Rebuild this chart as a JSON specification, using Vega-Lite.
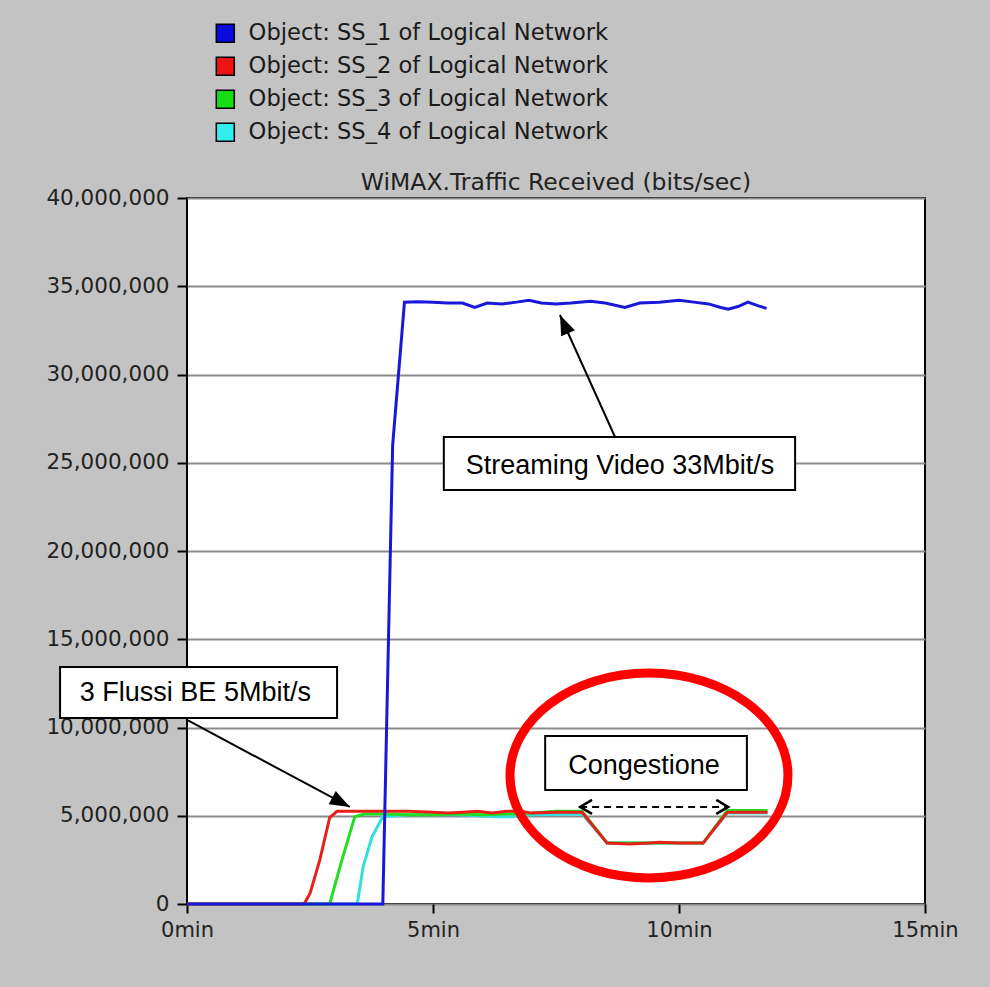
{
  "$schema": "https://vega.github.io/schema/vega-lite/v6.json",
  "width": 738,
  "height": 706,
  "autosize": "none",
  "padding": {"left": 187, "top": 198, "right": 65, "bottom": 83},
  "background": "#c3c3c3",
  "config": {
    "view": {"fill": "white", "stroke": "black", "strokeWidth": 2},
    "axis": {"labelFont": "DejaVu Sans", "labelColor": "#222222", "tickColor": "black", "tickWidth": 2, "domain": false}
  },
  "title": {"text": "WiMAX.Traffic Received (bits/sec)", "font": "DejaVu Sans", "fontSize": 23.5, "fontWeight": "normal", "color": "#222222", "offset": 6, "dy": 178, "anchor": "middle", "frame": "group"},
  "datasets": {
    "series": [
      {"s": "SS_1", "t": 0, "v": 0}, {"s": "SS_1", "t": 1, "v": 0}, {"s": "SS_1", "t": 2, "v": 0}, {"s": "SS_1", "t": 3, "v": 0},
      {"s": "SS_1", "t": 3.98, "v": 0}, {"s": "SS_1", "t": 4.18, "v": 26000000}, {"s": "SS_1", "t": 4.42, "v": 34100000},
      {"s": "SS_1", "t": 4.7, "v": 34120000}, {"s": "SS_1", "t": 5.0, "v": 34100000}, {"s": "SS_1", "t": 5.3, "v": 34050000},
      {"s": "SS_1", "t": 5.6, "v": 34050000}, {"s": "SS_1", "t": 5.85, "v": 33800000}, {"s": "SS_1", "t": 6.1, "v": 34050000},
      {"s": "SS_1", "t": 6.4, "v": 34000000}, {"s": "SS_1", "t": 6.7, "v": 34100000}, {"s": "SS_1", "t": 6.95, "v": 34200000},
      {"s": "SS_1", "t": 7.2, "v": 34050000}, {"s": "SS_1", "t": 7.5, "v": 34000000}, {"s": "SS_1", "t": 7.8, "v": 34050000},
      {"s": "SS_1", "t": 8.2, "v": 34150000}, {"s": "SS_1", "t": 8.5, "v": 34050000}, {"s": "SS_1", "t": 8.9, "v": 33800000},
      {"s": "SS_1", "t": 9.2, "v": 34050000}, {"s": "SS_1", "t": 9.6, "v": 34100000}, {"s": "SS_1", "t": 10.0, "v": 34200000},
      {"s": "SS_1", "t": 10.3, "v": 34100000}, {"s": "SS_1", "t": 10.6, "v": 34000000}, {"s": "SS_1", "t": 10.85, "v": 33800000},
      {"s": "SS_1", "t": 11.0, "v": 33700000}, {"s": "SS_1", "t": 11.2, "v": 33850000}, {"s": "SS_1", "t": 11.4, "v": 34100000},
      {"s": "SS_1", "t": 11.6, "v": 33900000}, {"s": "SS_1", "t": 11.78, "v": 33750000},

      {"s": "SS_2", "t": 0, "v": 0}, {"s": "SS_2", "t": 2.38, "v": 0}, {"s": "SS_2", "t": 2.5, "v": 600000},
      {"s": "SS_2", "t": 2.7, "v": 2500000}, {"s": "SS_2", "t": 2.9, "v": 4900000}, {"s": "SS_2", "t": 3.05, "v": 5250000},
      {"s": "SS_2", "t": 3.5, "v": 5250000}, {"s": "SS_2", "t": 4.0, "v": 5250000}, {"s": "SS_2", "t": 4.5, "v": 5250000},
      {"s": "SS_2", "t": 5.0, "v": 5200000}, {"s": "SS_2", "t": 5.3, "v": 5150000}, {"s": "SS_2", "t": 5.6, "v": 5200000},
      {"s": "SS_2", "t": 5.9, "v": 5250000}, {"s": "SS_2", "t": 6.2, "v": 5150000}, {"s": "SS_2", "t": 6.5, "v": 5250000},
      {"s": "SS_2", "t": 6.8, "v": 5250000}, {"s": "SS_2", "t": 7.0, "v": 5150000}, {"s": "SS_2", "t": 7.5, "v": 5200000},
      {"s": "SS_2", "t": 8.03, "v": 5200000}, {"s": "SS_2", "t": 8.54, "v": 3450000}, {"s": "SS_2", "t": 9.0, "v": 3400000},
      {"s": "SS_2", "t": 9.4, "v": 3450000}, {"s": "SS_2", "t": 9.6, "v": 3500000}, {"s": "SS_2", "t": 10.0, "v": 3450000},
      {"s": "SS_2", "t": 10.49, "v": 3450000}, {"s": "SS_2", "t": 10.98, "v": 5200000}, {"s": "SS_2", "t": 11.4, "v": 5200000},
      {"s": "SS_2", "t": 11.8, "v": 5200000},

      {"s": "SS_3", "t": 0, "v": 0}, {"s": "SS_3", "t": 2.9, "v": 0}, {"s": "SS_3", "t": 3.15, "v": 2500000},
      {"s": "SS_3", "t": 3.41, "v": 4950000}, {"s": "SS_3", "t": 3.6, "v": 5100000}, {"s": "SS_3", "t": 4.0, "v": 5100000},
      {"s": "SS_3", "t": 4.5, "v": 5050000}, {"s": "SS_3", "t": 5.0, "v": 5050000}, {"s": "SS_3", "t": 5.5, "v": 5100000},
      {"s": "SS_3", "t": 6.0, "v": 5050000}, {"s": "SS_3", "t": 6.5, "v": 5100000}, {"s": "SS_3", "t": 7.0, "v": 5150000},
      {"s": "SS_3", "t": 7.5, "v": 5250000}, {"s": "SS_3", "t": 8.03, "v": 5250000}, {"s": "SS_3", "t": 8.54, "v": 3450000},
      {"s": "SS_3", "t": 10.49, "v": 3450000}, {"s": "SS_3", "t": 10.98, "v": 5300000}, {"s": "SS_3", "t": 11.8, "v": 5300000},

      {"s": "SS_4", "t": 0, "v": 0}, {"s": "SS_4", "t": 3.46, "v": 0}, {"s": "SS_4", "t": 3.58, "v": 2100000},
      {"s": "SS_4", "t": 3.76, "v": 3800000}, {"s": "SS_4", "t": 3.98, "v": 4950000}, {"s": "SS_4", "t": 4.5, "v": 5050000},
      {"s": "SS_4", "t": 5.5, "v": 5050000}, {"s": "SS_4", "t": 6.3, "v": 4950000}, {"s": "SS_4", "t": 6.6, "v": 4950000},
      {"s": "SS_4", "t": 7.0, "v": 5050000}, {"s": "SS_4", "t": 8.03, "v": 5100000}, {"s": "SS_4", "t": 8.54, "v": 3450000},
      {"s": "SS_4", "t": 10.49, "v": 3450000}, {"s": "SS_4", "t": 10.98, "v": 5150000}, {"s": "SS_4", "t": 11.8, "v": 5150000}
    ],
    "boxes": [
      {"x": -2.58, "x2": 3.05, "y": 13430000, "y2": 10540000, "label": "3 Flussi BE 5Mbit/s", "tx": 0.17, "ty": 11950000},
      {"x": 5.22, "x2": 12.36, "y": 26460000, "y2": 23460000, "label": "Streaming Video 33Mbit/s", "tx": 8.8, "ty": 24820000},
      {"x": 7.28, "x2": 11.38, "y": 9520000, "y2": 6460000, "label": "Congestione", "tx": 9.29, "ty": 7820000}
    ],
    "arrow1": [{"x": 0.02, "y": 10400000, "x2": 3.31, "y2": 5500000}],
    "arrow2": [{"x": 8.7, "y": 26460000, "x2": 7.58, "y2": 33370000}],
    "span": [{"x": 7.99, "x2": 11.0, "y": 5500000}],
    "ellipse": [{"x": 9.39, "y": 7280000}]
  },
  "layer": [
    {
      "data": {"name": "series"},
      "transform": [{"filter": "datum.s == 'SS_4'"}],
      "mark": {"type": "line", "strokeWidth": 3, "color": "#33e0e0"},
      "encoding": {
        "x": {"field": "t", "type": "quantitative", "scale": {"domain": [0, 15]},
          "axis": {"values": [0, 5, 10, 15], "labelExpr": "datum.value + 'min'", "title": null, "grid": false, "tickSize": 9, "labelPadding": 6, "labelFontSize": 21, "labelFlush": false}},
        "y": {"field": "v", "type": "quantitative", "scale": {"domain": [0, 40000000]},
          "axis": {"values": [0, 5000000, 10000000, 15000000, 20000000, 25000000, 30000000, 35000000, 40000000], "format": ",d", "title": null, "grid": true, "gridColor": "#8a8a8a", "gridWidth": 2, "gridOpacity": 1, "tickSize": 10, "labelPadding": 8, "labelFontSize": 21.5}}
      }
    },
    {
      "data": {"name": "series"},
      "transform": [{"filter": "datum.s == 'SS_3'"}],
      "mark": {"type": "line", "strokeWidth": 3, "color": "#22dd22"},
      "encoding": {
        "x": {"field": "t", "type": "quantitative", "scale": {"domain": [0, 15]}, "title": null},
        "y": {"field": "v", "type": "quantitative", "scale": {"domain": [0, 40000000]}, "title": null}
      }
    },
    {
      "data": {"name": "series"},
      "transform": [{"filter": "datum.s == 'SS_2'"}],
      "mark": {"type": "line", "strokeWidth": 3, "color": "#e8201a"},
      "encoding": {
        "x": {"field": "t", "type": "quantitative", "scale": {"domain": [0, 15]}, "title": null},
        "y": {"field": "v", "type": "quantitative", "scale": {"domain": [0, 40000000]}, "title": null}
      }
    },
    {
      "data": {"name": "series"},
      "transform": [{"filter": "datum.s == 'SS_1'"}],
      "mark": {"type": "line", "strokeWidth": 3, "color": "#1818d8"},
      "encoding": {
        "x": {"field": "t", "type": "quantitative", "scale": {"domain": [0, 15]}, "title": null},
        "y": {"field": "v", "type": "quantitative", "scale": {"domain": [0, 40000000]}, "title": null}
      }
    },
    {
      "data": {"name": "series"},
      "mark": {"type": "square", "opacity": 0, "filled": true},
      "encoding": {
        "x": {"field": "t", "type": "quantitative", "scale": {"domain": [0, 15]}, "title": null},
        "y": {"field": "v", "type": "quantitative", "scale": {"domain": [0, 40000000]}, "title": null},
        "fill": {"field": "s", "type": "nominal",
          "scale": {"domain": ["SS_1", "SS_2", "SS_3", "SS_4"], "range": ["#0a0ae0", "#ee1414", "#14dd14", "#33eeee"]},
          "legend": {"title": null, "orient": "none", "legendX": 27, "legendY": -176, "padding": 0,
            "symbolType": "square", "symbolSize": 324, "symbolStrokeColor": "black", "symbolStrokeWidth": 1.5, "symbolOpacity": 1,
            "labelFont": "DejaVu Sans", "labelFontSize": 22.6, "labelColor": "#1a1a1a", "labelOffset": 12, "rowPadding": 8, "labelLimit": 600,
            "labelExpr": "'Object: ' + datum.label + ' of Logical Network'"}}
      }
    },
    {
      "data": {"name": "boxes"},
      "mark": {"type": "rect", "fill": "white", "stroke": "black", "strokeWidth": 2},
      "encoding": {
        "x": {"field": "x", "type": "quantitative", "scale": {"domain": [0, 15]}, "title": null},
        "x2": {"field": "x2"},
        "y": {"field": "y", "type": "quantitative", "scale": {"domain": [0, 40000000]}, "title": null},
        "y2": {"field": "y2"}
      }
    },
    {
      "data": {"name": "boxes"},
      "mark": {"type": "text", "font": "Liberation Sans", "fontSize": 27, "color": "black", "align": "center", "baseline": "middle"},
      "encoding": {
        "x": {"field": "tx", "type": "quantitative", "scale": {"domain": [0, 15]}, "title": null},
        "y": {"field": "ty", "type": "quantitative", "scale": {"domain": [0, 40000000]}, "title": null},
        "text": {"field": "label"}
      }
    },
    {
      "data": {"name": "arrow1"},
      "mark": {"type": "rule", "color": "black", "strokeWidth": 2},
      "encoding": {
        "x": {"field": "x", "type": "quantitative", "scale": {"domain": [0, 15]}, "title": null},
        "x2": {"field": "x2"},
        "y": {"field": "y", "type": "quantitative", "scale": {"domain": [0, 40000000]}, "title": null},
        "y2": {"field": "y2"}
      }
    },
    {
      "data": {"name": "arrow1"},
      "mark": {"type": "point", "shape": "M0,0L-2,-0.75L-2,0.75Z", "filled": true, "fill": "black", "opacity": 1, "size": 400, "angle": 28},
      "encoding": {
        "x": {"field": "x2", "type": "quantitative", "scale": {"domain": [0, 15]}, "title": null},
        "y": {"field": "y2", "type": "quantitative", "scale": {"domain": [0, 40000000]}, "title": null}
      }
    },
    {
      "data": {"name": "arrow2"},
      "mark": {"type": "rule", "color": "black", "strokeWidth": 2},
      "encoding": {
        "x": {"field": "x", "type": "quantitative", "scale": {"domain": [0, 15]}, "title": null},
        "x2": {"field": "x2"},
        "y": {"field": "y", "type": "quantitative", "scale": {"domain": [0, 40000000]}, "title": null},
        "y2": {"field": "y2"}
      }
    },
    {
      "data": {"name": "arrow2"},
      "mark": {"type": "point", "shape": "M0,0L-2,-0.75L-2,0.75Z", "filled": true, "fill": "black", "opacity": 1, "size": 400, "angle": 246},
      "encoding": {
        "x": {"field": "x2", "type": "quantitative", "scale": {"domain": [0, 15]}, "title": null},
        "y": {"field": "y2", "type": "quantitative", "scale": {"domain": [0, 40000000]}, "title": null}
      }
    },
    {
      "data": {"name": "span"},
      "mark": {"type": "rule", "color": "black", "strokeWidth": 2, "strokeDash": [7, 5]},
      "encoding": {
        "x": {"field": "x", "type": "quantitative", "scale": {"domain": [0, 15]}, "title": null},
        "x2": {"field": "x2"},
        "y": {"field": "y", "type": "quantitative", "scale": {"domain": [0, 40000000]}, "title": null}
      }
    },
    {
      "data": {"name": "span"},
      "mark": {"type": "point", "shape": "M1.7,-1L0,0L1.7,1", "filled": false, "stroke": "black", "strokeWidth": 2.5, "opacity": 1, "size": 196},
      "encoding": {
        "x": {"field": "x", "type": "quantitative", "scale": {"domain": [0, 15]}, "title": null},
        "y": {"field": "y", "type": "quantitative", "scale": {"domain": [0, 40000000]}, "title": null}
      }
    },
    {
      "data": {"name": "span"},
      "mark": {"type": "point", "shape": "M-1.7,-1L0,0L-1.7,1", "filled": false, "stroke": "black", "strokeWidth": 2.5, "opacity": 1, "size": 196},
      "encoding": {
        "x": {"field": "x2", "type": "quantitative", "scale": {"domain": [0, 15]}, "title": null},
        "y": {"field": "y", "type": "quantitative", "scale": {"domain": [0, 40000000]}, "title": null}
      }
    },
    {
      "data": {"name": "ellipse"},
      "mark": {"type": "point", "shape": "M-1,0C-1,-0.407,-0.552,-0.737,0,-0.737C0.552,-0.737,1,-0.407,1,0C1,0.407,0.552,0.737,0,0.737C-0.552,0.737,-1,0.407,-1,0Z", "filled": false, "stroke": "#ff0000", "strokeWidth": 9, "opacity": 1, "size": 77284},
      "encoding": {
        "x": {"field": "x", "type": "quantitative", "scale": {"domain": [0, 15]}, "title": null},
        "y": {"field": "y", "type": "quantitative", "scale": {"domain": [0, 40000000]}, "title": null}
      }
    }
  ]
}
